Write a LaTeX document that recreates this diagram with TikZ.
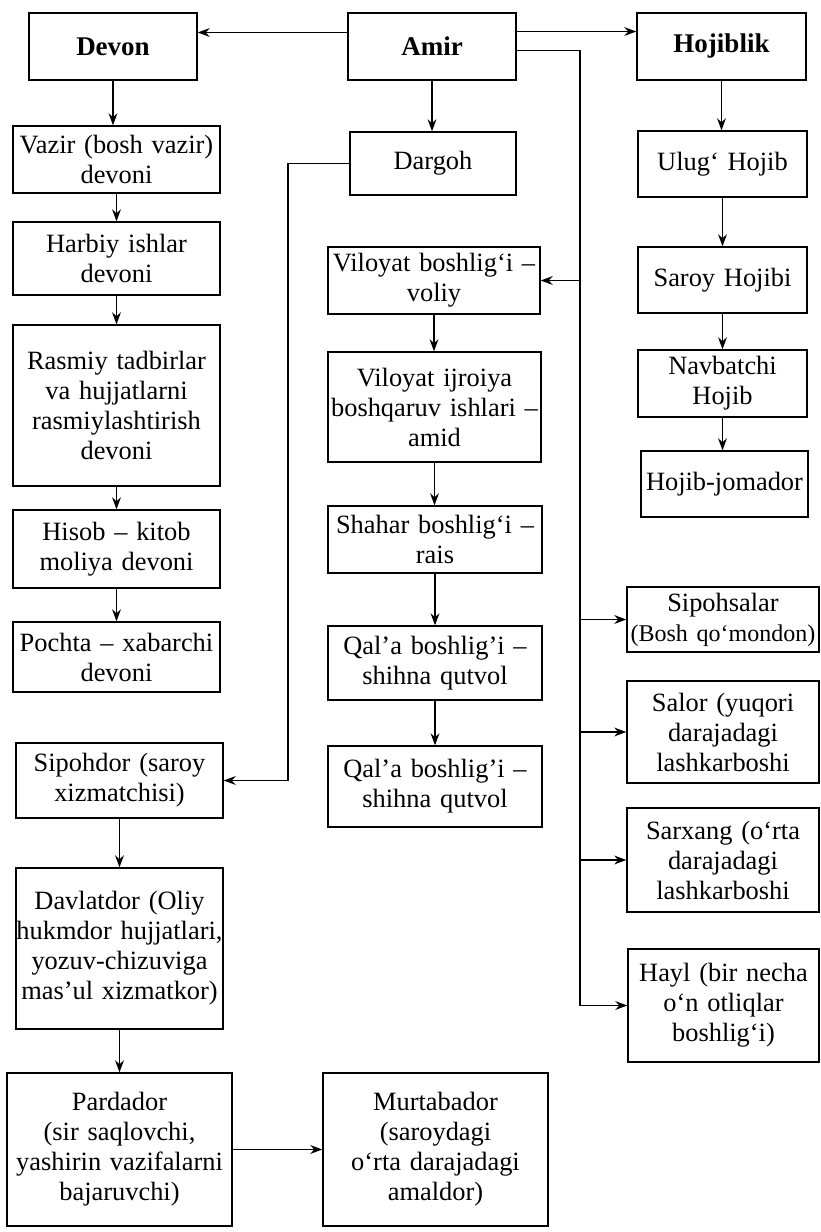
\documentclass[tikz,border=0pt]{standalone}
\usepackage{fontspec}
\setmainfont{Liberation Serif}
\usetikzlibrary{arrows.meta,positioning}

\begin{document}
\begin{tikzpicture}[x=0.5pt,y=-0.5pt,
    box/.style={draw,line width=0.7pt,align=center,inner sep=0pt,font=\fontsize{13.2}{15}\selectfont},
    head/.style={box,font=\fontsize{13.5}{15}\selectfont\bfseries},
    wh/.style 2 args={text width=#1*0.5pt,minimum width=#1*0.5pt,minimum height=#2*0.5pt},
    arr/.style={-{Stealth[length=6pt,width=4.4pt]},line width=0.7pt}]
    \useasboundingbox (0,0) rectangle (820,1232);
    % top row
    \node[head,wh={168}{67}] (devon) at (113,46.5) {Devon};
    \node[head,wh={168}{67}] (amir) at (432,46.5) {Amir};
    \node[head,wh={169}{67}] (hojiblik) at (721.5,46.5) {Hojiblik};
    % devon column
    \node[box,wh={207}{67}] (vazir) at (116.5,159.5) {Vazir (bosh vazir)\\devoni};
    \node[box,wh={207}{73}] (harbiy) at (116.5,258.5) {Harbiy ishlar\\devoni};
    \node[box,wh={207}{161}] (rasmiy) at (116.5,405.5) {Rasmiy tadbirlar\\va hujjatlarni\\rasmiylashtirish\\devoni};
    \node[box,wh={207}{78}] (hisob) at (116.5,549) {Hisob – kitob\\moliya devoni};
    \node[box,wh={207}{70}] (pochta) at (116.5,657) {Pochta – xabarchi\\devoni};
    \node[box,wh={207}{75}] (sipohdor) at (119.5,780.5) {Sipohdor (saroy\\xizmatchisi)};
    \node[box,wh={207}{161}] (davlatdor) at (119.5,948.5) {Davlatdor (Oliy\\hukmdor hujjatlari,\\yozuv-chizuviga\\mas’ul xizmatkor)};
    \node[box,wh={225}{153}] (pardador) at (119.5,1149.5) {Pardador\\(sir saqlovchi,\\yashirin vazifalarni\\bajaruvchi)};
    \node[box,wh={225}{153}] (murtabador) at (435.5,1149.5) {Murtabador\\(saroydagi\\o‘rta darajadagi\\amaldor)};
    % amir column
    \node[box,wh={166}{63}] (dargoh) at (433,163.5) {Dargoh};
    \node[box,wh={212}{67}] (vil1) at (434,280.5) {Viloyat boshlig‘i –\\voliy};
    \node[box,wh={213}{110}] (vil2) at (434.5,407) {Viloyat ijroiya\\boshqaruv ishlari –\\amid};
    \node[box,wh={214}{67}] (shahar) at (435,539.5) {Shahar boshlig‘i –\\rais};
    \node[box,wh={214}{74}] (qala1) at (435,663) {Qal’a boshlig’i –\\shihna qutvol};
    \node[box,wh={214}{81}] (qala2) at (435,786.5) {Qal’a boshlig’i –\\shihna qutvol};
    % hojiblik column
    \node[box,wh={169}{66}] (ulug) at (722.5,164) {Ulug‘ Hojib};
    \node[box,wh={169}{66}] (saroy) at (722.5,280) {Saroy Hojibi};
    \node[box,wh={169}{67}] (navbat) at (722.5,383.5) {Navbatchi\\Hojib};
    \node[box,wh={167}{66}] (jomador) at (724.5,484) {Hojib-jomador};
    \node[box,wh={192}{65}] (sipohsalar) at (723,619.5) {Sipohsalar\\\makebox[\linewidth]{\fontsize{12}{15}\selectfont(Bosh qo‘mondon)}};
    \node[box,wh={192}{102}] (salor) at (723,732) {Salor (yuqori\\darajadagi\\lashkarboshi};
    \node[box,wh={192}{104}] (sarxang) at (723,860) {Sarxang (o‘rta\\darajadagi\\lashkarboshi};
    \node[box,wh={191}{113}] (hayl) at (723.5,1005.5) {Hayl (bir necha\\o‘n otliqlar\\boshlig‘i)};

    % links from Amir
    \coordinate (aw) at ([yshift=7pt]amir.west);
    \coordinate (ae) at ([yshift=7.5pt]amir.east);
    \coordinate (ab) at ([yshift=-2pt]amir.east);
    \coordinate (bus) at (580,1005.5);
    \coordinate (dbus) at (288,0);
    \draw[arr] (aw) -- (aw -| devon.east);
    \draw[arr] (ae) -- (ae -| hojiblik.west);
    \draw[line width=0.7pt] (ab) -| (bus);
    \draw[arr] (bus |- vil1.east) -- (vil1.east);
    \foreach \n in {sipohsalar,salor,sarxang,hayl}
        \draw[arr] (bus |- \n.west) -- (\n.west);
    \draw[arr] (dargoh.west) -| (dbus |- sipohdor.east) -- (sipohdor.east);
    % vertical chains
    \foreach \a/\b in {devon/vazir,vazir/harbiy,harbiy/rasmiy,rasmiy/hisob,hisob/pochta,
        sipohdor/davlatdor,davlatdor/pardador,amir/dargoh,vil1/vil2,vil2/shahar,
        shahar/qala1,qala1/qala2,hojiblik/ulug,ulug/saroy,saroy/navbat,navbat/jomador}
        \draw[arr] (\a.south) -- (\a.south |- \b.north);
    \draw[arr] (pardador.east) -- (pardador.east -| murtabador.west);
\end{tikzpicture}
\end{document}
